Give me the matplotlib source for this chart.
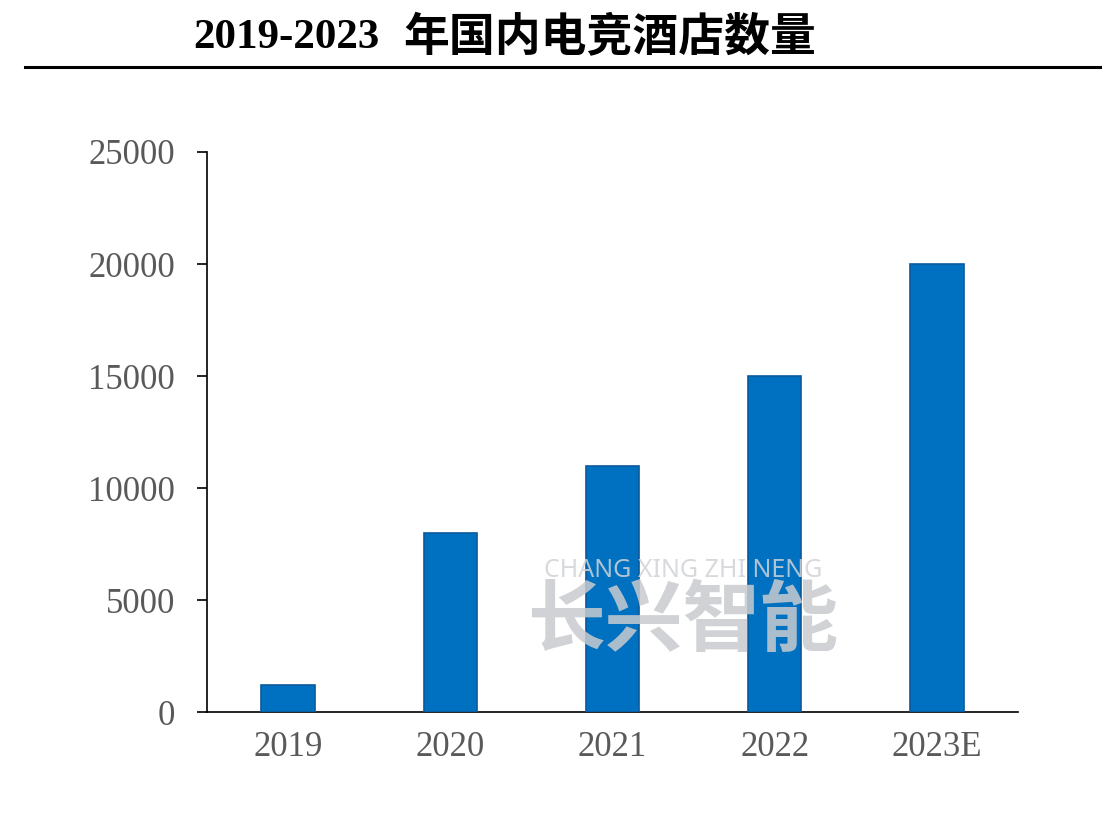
import matplotlib

matplotlib.use("Agg")
import matplotlib.pyplot as plt
from matplotlib import font_manager
from matplotlib.lines import Line2D

# data
years = ["2019", "2020", "2021", "2022", "2023E"]
hotels = [1200, 8000, 11000, 15000, 20000]
y_ticks = [0, 5000, 10000, 15000, 20000, 25000]

names = {f.name for f in font_manager.fontManager.ttflist}
cjk = next((n for n in ["Noto Sans CJK SC", "Noto Sans CJK JP", "Noto Sans CJK TC",
                        "Noto Sans CJK KR", "Noto Serif CJK SC"] if n in names), "DejaVu Sans")
cjk_any = [n for n in names if "CJK" in n]
if cjk == "DejaVu Sans" and cjk_any:
    cjk = cjk_any[0]

fig = plt.figure(figsize=(11.02, 8.22), dpi=100)
ax = fig.add_axes([207 / 1102, 1 - 712 / 822, (1018 - 207) / 1102, (712 - 152) / 822])

x = range(len(years))
ax.bar(x, hotels, width=0.33, color="#0070C0", edgecolor="#0A5A9C", linewidth=1.2, zorder=3)
ax.set_xlim(-0.5, len(years) - 0.5)
ax.set_ylim(0, 25000)
ax.set_yticks(y_ticks)
ax.set_xticks(list(x))
ax.set_xticklabels(years)

for side in ("top", "right"):
    ax.spines[side].set_visible(False)
for side in ("left", "bottom"):
    ax.spines[side].set_color("#000000")
    ax.spines[side].set_linewidth(1.2)
ax.tick_params(axis="x", length=0, pad=14)
ax.tick_params(axis="y", direction="out", length=7, width=1.2, pad=16)
for lbl in ax.get_xticklabels() + ax.get_yticklabels():
    lbl.set_fontfamily("Liberation Serif")
    lbl.set_fontsize(25)
    lbl.set_color("#595959")

# watermark
fig.text(683 / 1102, 1 - 570 / 822, "CHANG XING ZHI NENG", ha="center", va="center",
         fontsize=18, color="#D0D3D6", fontfamily="Noto Sans", fontweight="bold",
         alpha=0.85, zorder=5)
fig.text(683 / 1102, 1 - 622 / 822, "长兴智能", ha="center", va="center",
         fontsize=56, color="#C8CBCF", fontfamily=cjk, fontweight="bold",
         alpha=0.85, zorder=5)

# title
fig.text(193 / 1102, 1 - 38 / 822, "2019-2023", ha="left", va="center",
         fontsize=31, fontweight="bold", fontfamily="Liberation Serif")
fig.text(403 / 1102, 1 - 38 / 822, "年国内电竞酒店数量", ha="left", va="center",
         fontsize=33, fontweight="bold", fontfamily=cjk)
fig.add_artist(Line2D([25 / 1102, 1100 / 1102], [1 - 67 / 822] * 2, color="black", lw=2.2))

fig.savefig("out.png", dpi=100)
